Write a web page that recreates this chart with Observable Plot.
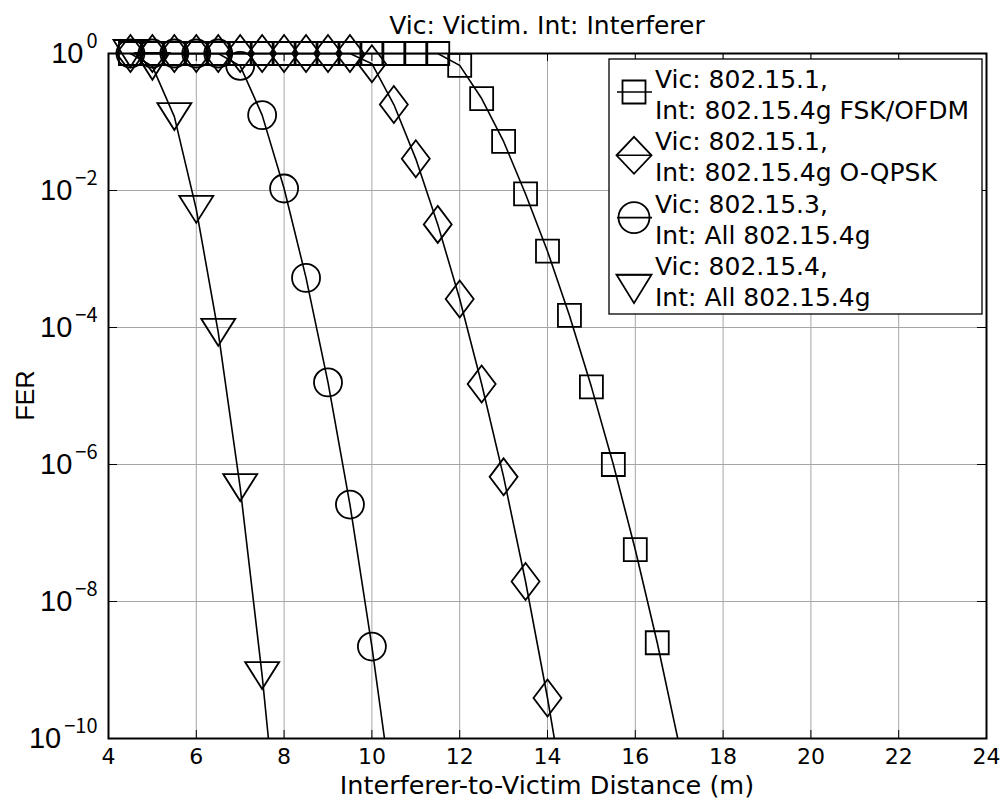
<!DOCTYPE html>
<html><head><meta charset="utf-8">
<script src="https://cdn.jsdelivr.net/npm/d3@7"></script>
<script src="https://cdn.jsdelivr.net/npm/@observablehq/plot@0.6"></script>
<style>
html,body{margin:0;padding:0;background:#fff;}
#wrap{position:relative;width:1003px;height:805px;overflow:hidden;background:#fff;}
#wrap svg{position:absolute;left:0;top:0;}
</style></head><body><div id="wrap"></div>
<script>
// ---------- data ----------
const xTicks = [4, 6, 8, 10, 12, 14, 16, 18, 20, 22, 24];
const yTicks = [1, 1e-2, 1e-4, 1e-6, 1e-8, 1e-10];
const titleText = "Vic: Victim. Int: Interferer";
const xLabel = "Interferer-to-Victim Distance (m)";
const yLabel = "FER";
const vicLabels = ["Vic: 802.15.1,", "Vic: 802.15.1,", "Vic: 802.15.3,", "Vic: 802.15.4,"];
const intLabels = ["Int: 802.15.4g FSK/OFDM", "Int: 802.15.4g O-QPSK", "Int: All 802.15.4g", "Int: All 802.15.4g"];

// Vic 802.15.1, Int 802.15.4g FSK/OFDM (squares)
const distFsk = [4.5,5,5.5,6,6.5,7,7.5,8,8.5,9,9.5,10,10.5,11,11.5,12,12.5,13,13.5,14,14.5,15,15.5,16,16.5,17];
const ferFsk  = [1,1,1,1,1,1,1,1,1,1,1,1,1,1,1,0.67,0.22,0.052,8.9e-3,1.3e-3,1.5e-4,1.36e-5,1.0e-6,5.7e-8,2.5e-9,8e-11];
// Vic 802.15.1, Int 802.15.4g O-QPSK (diamonds)
const distOqpsk = [4.5,5,5.5,6,6.5,7,7.5,8,8.5,9,9.5,10,10.5,11,11.5,12,12.5,13,13.5,14,14.5];
const ferOqpsk  = [1,1,1,1,1,1,1,1,1,1,1,0.71,0.18,0.029,3.2e-3,2.6e-4,1.5e-5,6.6e-7,1.96e-8,3.9e-10,5e-12];
// Vic 802.15.3, Int all 802.15.4g (circles)
const dist153 = [4.5,5,5.5,6,6.5,7,7.5,8,8.5,9,9.5,10,10.5];
const fer153  = [1,1,1,1,1,0.66,0.126,0.0107,5.3e-4,1.58e-5,2.6e-7,2.2e-9,1e-11];
// Vic 802.15.4, Int all 802.15.4g (down triangles)
const dist154 = [4.5,5,5.5,6,6.5,7,7.5,8];
const fer154  = [1,0.65,0.12,5.3e-3,8.5e-5,4.6e-7,8.3e-10,5e-13];

const seriesDist = [distFsk, distOqpsk, dist153, dist154];
const seriesFer = [ferFsk, ferOqpsk, fer153, fer154];

// ---------- marker shapes ----------
const mkSquare = (h) => ({draw(c){ c.moveTo(-h,-h); c.lineTo(h,-h); c.lineTo(h,h); c.lineTo(-h,h); c.closePath(); }});
const mkDiamond = (w,h) => ({draw(c){ c.moveTo(0,-h); c.lineTo(w,0); c.lineTo(0,h); c.lineTo(-w,0); c.closePath(); }});
const mkCircle = (r) => ({draw(c){ c.moveTo(r,0); c.arc(0,0,r,0,2*Math.PI); c.closePath(); }});
const mkTri = (w,h) => ({draw(c){ c.moveTo(-w,-h); c.lineTo(w,-h); c.lineTo(0,h); c.closePath(); }});
const symbols = [mkSquare(11.5), mkDiamond(14, 18.5), mkCircle(14), mkTri(17, 13.5)];

// ---------- chart ----------
const W = 1003, H = 805, mL = 108, mR = 17, mT = 53, mB = 67;
const pw = W - mL - mR, ph = H - mT - mB;
const gridStyle = {stroke: "#a6a6a6", strokeOpacity: 1, strokeWidth: 1};

const marks = [
  Plot.gridX(xTicks, gridStyle),
  Plot.gridY(yTicks, gridStyle),
  Plot.ruleX(xTicks, {stroke: "black", strokeWidth: 1, insetTop: ph - 8}),
  Plot.ruleX(xTicks, {stroke: "black", strokeWidth: 1, insetBottom: ph - 8}),
  Plot.ruleY(yTicks, {stroke: "black", strokeWidth: 1, insetRight: pw - 9}),
  Plot.ruleY(yTicks, {stroke: "black", strokeWidth: 1, insetLeft: pw - 9}),
  Plot.axisX(xTicks, {tickSize: 0, tickPadding: 10, fontSize: 22, fontFamily: "DejaVu Sans", label: null}),
  Plot.axisY(yTicks, {tickSize: 0, tickPadding: 11, fontSize: 29, fontFamily: "Liberation Sans",
    tickFormat: d => String(Math.round(Math.log10(d))), label: null})
];
seriesDist.forEach((xs, i) => {
  const rows = xs.map((x, j) => ({x, y: seriesFer[i][j]}));
  marks.push(Plot.line(rows, {x: "x", y: "y", stroke: "black", strokeWidth: 1.6, clip: true}));
  marks.push(Plot.dot(rows.filter(d => d.y >= 1e-10), {x: "x", y: "y", r: 1, symbol: symbols[i],
    stroke: "black", strokeWidth: 1.8, fill: "none"}));
});
marks.push(Plot.frame({stroke: "black", strokeWidth: 2}));

const chart = Plot.plot({
  width: W, height: H,
  marginLeft: mL, marginRight: mR, marginTop: mT, marginBottom: mB,
  style: {background: "white", color: "black", fontFamily: "DejaVu Sans", overflow: "visible"},
  x: {domain: [4, 24]},
  y: {type: "log", domain: [1e-10, 1]},
  marks
});
document.getElementById("wrap").appendChild(chart);

// y tick labels as 10^n
d3.select(chart).selectAll('g[aria-label="y-axis tick label"] text').each(function () {
  const t = d3.select(this);
  const e = +t.text();
  t.text("");
  t.append("tspan").text("10");
  t.append("tspan").attr("dy", "-15").attr("dx", "3").attr("font-size", "20px")
    .attr("font-family", "Noto Sans CJK JP")
    .text(e === 0 ? "0" : "\u2212" + Math.abs(e));
});

// ---------- overlay: title, labels, legend ----------
const xs = chart.scale("x"), ys = chart.scale("y");
const cx = xs.apply(14), cy = ys.apply(1e-5);
const ov = d3.select("#wrap").append("svg").attr("width", W).attr("height", H)
  .style("pointer-events", "none").attr("font-family", "DejaVu Sans");
ov.append("text").attr("x", cx).attr("y", 34).attr("text-anchor", "middle")
  .attr("font-size", 25).text(titleText);
ov.append("text").attr("x", cx).attr("y", 794).attr("text-anchor", "middle")
  .attr("font-size", 25.5).text(xLabel);
ov.append("text").attr("transform", `translate(34,${cy}) rotate(-90)`).attr("text-anchor", "middle")
  .attr("font-family", "Liberation Sans").attr("font-size", 25).text(yLabel);

const lg = ov.append("g");
lg.append("rect").attr("x", 609).attr("y", 59).attr("width", 373).attr("height", 255)
  .attr("fill", "white").attr("stroke", "black").attr("stroke-width", 1.3);
const legendMarkers = [mkSquare(11.5), mkDiamond(17.5, 18.5), mkCircle(15.5), mkTri(17.5, 14.2)];
const markerDy = [4, 5, 5, 14];
const lineDy = [4, 5, 5, 0];
vicLabels.forEach((v, i) => {
  const y0 = 88 + 62.3 * i;
  lg.append("line").attr("x1", 617).attr("x2", 652).attr("y1", y0 + lineDy[i]).attr("y2", y0 + lineDy[i])
    .attr("stroke", "black").attr("stroke-width", 1.6);
  const p = d3.path();
  legendMarkers[i].draw(p);
  lg.append("path").attr("d", p.toString()).attr("transform", `translate(634,${y0 + markerDy[i]})`)
    .attr("fill", "none").attr("stroke", "black").attr("stroke-width", 1.8);
  lg.append("text").attr("x", 655).attr("y", y0).attr("font-size", 25).text(v);
  lg.append("text").attr("x", 655).attr("y", y0 + 31).attr("font-size", 25).text(intLabels[i]);
});
</script>
</body></html>
